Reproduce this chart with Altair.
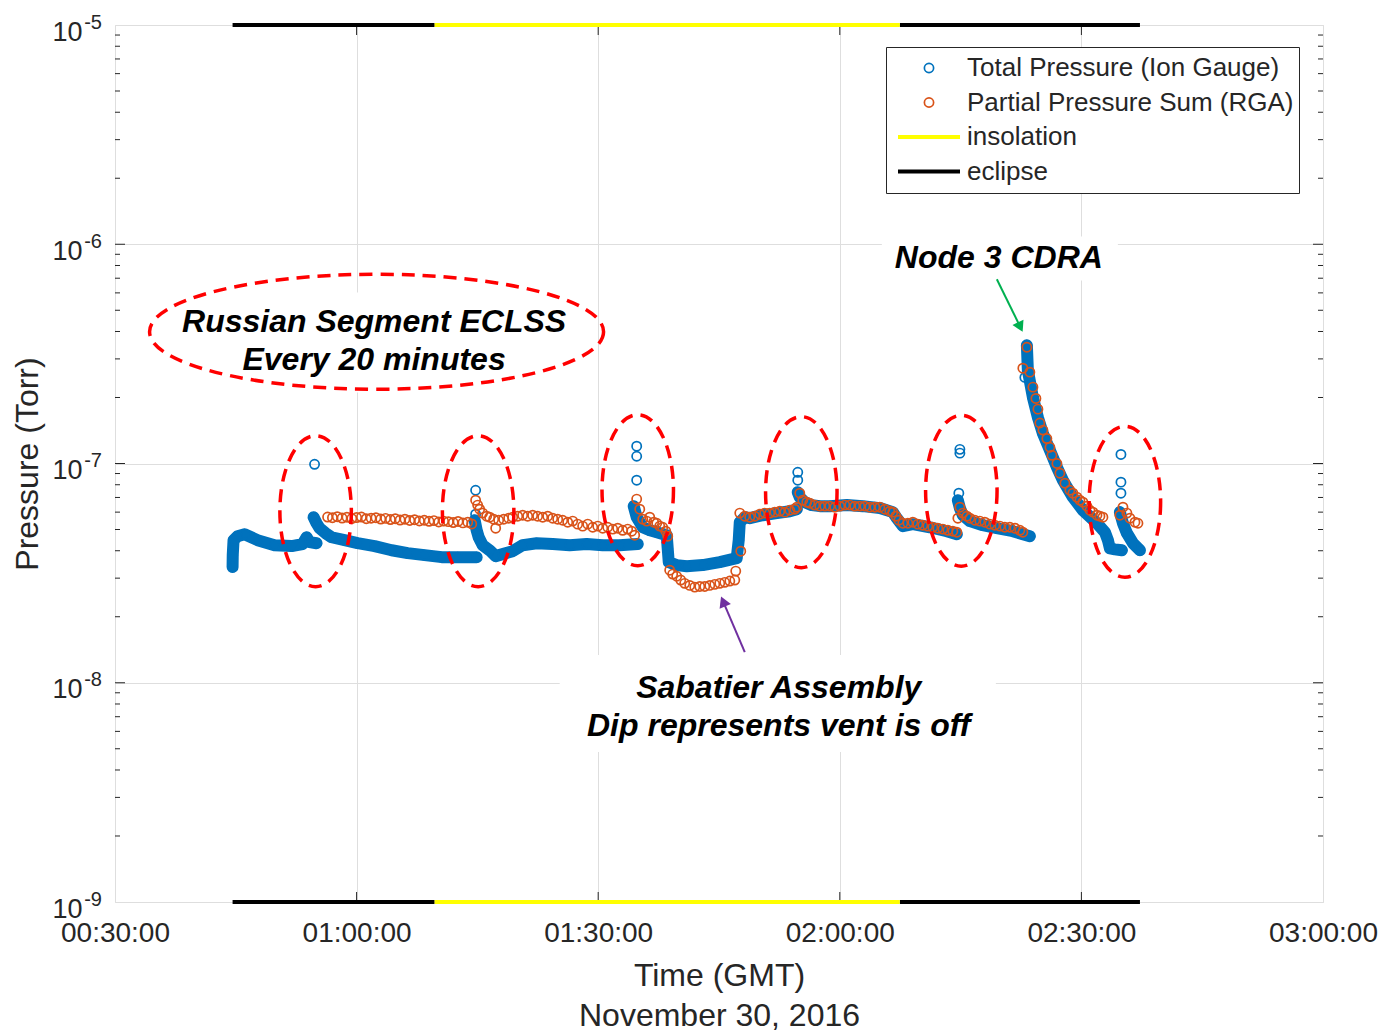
import altair as alt
import pandas as pd

FONT = "Liberation Sans"
INK = "#262626"
GRID = "#dedede"
BLUE = "#0072BD"
ORANGE = "#D95319"
W, H = 1208, 877

# ---------------- axes ----------------
x_tick_values = [30, 60, 90, 120, 150, 180]          # minutes after 00:00 GMT
x_tick_labels = ["00:30:00", "01:00:00", "01:30:00", "02:00:00", "02:30:00", "03:00:00"]
y_tick_values = [1e-9, 1e-8, 1e-7, 1e-6, 1e-5]
y_tick_base = "10"
y_tick_exponents = ["-9", "-8", "-7", "-6", "-5"]
y_minor_ticks = [m * 10.0 ** e for e in (-9, -8, -7, -6) for m in range(2, 10)]
x_inner_ticks = [60, 90, 120, 150]
y_inner_ticks = [1e-8, 1e-7, 1e-6]

# ---------------- legend entries ----------------
series_names = ["Total Pressure (Ion Gauge)", "Partial Pressure Sum (RGA)", "insolation", "eclipse"]
series_colors = [BLUE, ORANGE, "#FFFF00", "#000000"]
series_shapes = ["circle", "circle", "stroke", "stroke"]
series_sizes = [85, 85, 3844, 3844]
series_widths = [1.7, 1.7, 4, 4]

# ---------------- Total pressure (ion gauge), pressures in 1e-8 Torr ----------------
run_a_t = [44.60, 44.62, 44.72, 45.22, 46.09, 47.70, 49.81, 51.93, 53.29, 53.79, 54.16, 55.03]
run_a_p = [3.37, 3.82, 4.47, 4.66, 4.76, 4.47, 4.24, 4.20, 4.29, 4.61, 4.38, 4.33]
run_b_t = [54.66, 55.03, 55.40, 56.15, 56.89, 58.51, 60.12, 62.24, 64.35, 66.34, 68.45, 70.56, 72.55, 74.91]
run_b_p = [5.69, 5.34, 5.07, 4.81, 4.61, 4.47, 4.33, 4.20, 4.02, 3.90, 3.82, 3.74, 3.74, 3.74]
run_c_t = [74.66, 74.91, 75.16, 75.65, 76.52, 77.27, 78.14, 79.38, 80.62, 82.36, 84.35, 86.46, 88.57, 90.56, 92.67, 94.91]
run_c_p = [5.51, 4.96, 4.61, 4.24, 4.02, 3.78, 3.86, 3.98, 4.24, 4.33, 4.29, 4.24, 4.29, 4.24, 4.24, 4.29]
run_d_t = [94.41, 94.78, 95.53, 96.40, 97.27, 98.51, 98.63, 98.76, 99.75, 100.99, 102.98, 105.09, 107.20,
           107.45, 107.58, 108.20, 108.82, 110.43, 112.17, 113.79, 114.66]
run_d_p = [6.39, 5.69, 5.12, 4.96, 4.86, 4.71, 4.10, 3.55, 3.44, 3.40, 3.44, 3.55, 3.70,
           4.47, 5.40, 5.69, 5.63, 5.81, 5.94, 6.06, 6.19]
run_e_t = [114.78, 115.03, 115.65, 116.52, 117.52, 118.76, 120.87, 122.86, 124.97, 126.58, 127.08, 127.83,
           129.07, 131.18, 133.29, 134.53]
run_e_p = [7.40, 7.02, 6.66, 6.46, 6.39, 6.39, 6.46, 6.39, 6.26, 6.00, 5.63, 5.18, 5.29, 5.12, 4.91, 4.76]
run_f_t = [134.66, 134.91, 135.28, 136.15, 137.76, 139.50, 141.49, 142.73, 143.60]
run_f_p = [6.80, 6.26, 5.81, 5.46, 5.23, 5.07, 4.91, 4.76, 4.66]
run_g_t = [143.23, 143.35, 143.98, 144.60, 145.22, 146.09, 146.96, 147.70, 148.94, 150.19, 151.93, 152.92,
           153.29, 153.54, 154.16, 155.03]
run_g_p = [34.6, 26.6, 20.0, 16.2, 13.7, 11.49, 9.61, 8.39, 7.02, 6.12, 5.34, 4.86, 4.47, 4.10, 4.06, 4.02]
run_h_t = [154.78, 155.16, 155.65, 156.40, 157.27]
run_h_p = [6.00, 5.34, 4.81, 4.33, 4.02]
spike_t = [54.78, 74.78, 74.78, 94.78, 94.78, 94.78, 114.78, 114.78, 134.91, 134.91, 134.78, 142.98,
           154.91, 154.91, 154.91]
spike_p = [9.92, 7.55, 5.87, 12.0, 10.79, 8.39, 9.12, 8.39, 11.6, 11.15, 7.32, 24.7, 11.0, 8.22, 7.32]

# ---------------- Partial pressure sum (RGA), pressures in 1e-8 Torr ----------------
rga1_t = [56.4, 57.0, 57.6, 58.2, 58.8, 59.4, 60.0, 60.6, 61.2, 61.8, 62.4, 63.0, 63.6, 64.2, 64.8, 65.4,
          66.0, 66.6, 67.2, 67.8, 68.4, 69.0, 69.6, 70.2, 70.8, 71.4, 72.0, 72.6, 73.2, 73.8, 74.3]
rga1_p = [5.70, 5.66, 5.72, 5.64, 5.69, 5.61, 5.67, 5.70, 5.60, 5.63, 5.66, 5.58, 5.62, 5.55, 5.60, 5.52,
          5.57, 5.50, 5.54, 5.47, 5.51, 5.45, 5.49, 5.41, 5.46, 5.43, 5.38, 5.44, 5.36, 5.40, 5.30]
rga2_t = [74.78, 75.03, 75.28, 75.65, 76.15, 76.52, 77.02, 77.27, 77.64, 78.26, 78.88, 79.38, 80.00, 80.62,
          81.24, 81.86, 82.48, 83.11, 83.73, 84.35, 84.97, 85.59, 86.21, 86.83, 87.45, 88.07, 88.70, 89.32,
          89.94, 90.56, 91.18, 91.80, 92.42, 93.04, 93.66, 94.16, 94.53]
rga2_p = [6.80, 6.46, 6.19, 5.94, 5.75, 5.69, 5.57, 5.07, 5.51, 5.57, 5.63, 5.69, 5.75, 5.81,
          5.75, 5.81, 5.75, 5.69, 5.75, 5.63, 5.57, 5.51, 5.40, 5.46, 5.29, 5.18, 5.29, 5.12,
          5.18, 5.07, 5.12, 5.02, 5.07, 4.96, 5.02, 4.91, 4.71]
rga3_t = [94.78, 95.16, 95.53, 96.02, 96.40, 96.89, 97.27, 97.64, 98.01, 98.39, 98.63, 98.88, 99.25, 99.75,
          100.25, 100.74, 101.37, 101.99, 102.61, 103.23, 103.85, 104.47, 105.09, 105.71, 106.34, 106.96,
          107.08, 107.70]
rga3_p = [6.88, 6.19, 5.57, 5.46, 5.69, 5.40, 5.34, 5.18, 5.12, 4.91, 4.66, 3.26, 3.13, 3.06,
          2.94, 2.84, 2.78, 2.73, 2.75, 2.75, 2.78, 2.81, 2.84, 2.87, 2.91, 2.94, 3.23, 3.98]
rga4_t = [107.58, 108.20, 108.82, 109.44, 110.06, 110.68, 111.30, 111.93, 112.55, 113.17, 113.79, 114.41,
          114.66, 115.03, 115.40, 115.90, 116.27, 116.89, 117.52, 118.14, 118.76, 119.38, 120.00, 120.62,
          121.24, 121.86, 122.48, 123.11, 123.73, 124.35, 124.97, 125.59, 126.21, 126.58, 126.96, 127.33,
          127.83, 128.45, 129.07, 129.69, 130.31, 130.93, 131.55, 132.17, 132.80, 133.42, 134.04, 134.53,
          134.66, 134.91, 135.28, 135.78, 136.15, 136.77, 137.39, 138.01, 138.63, 139.25, 139.88, 140.50,
          141.12, 141.74, 142.36, 142.73]
rga4_p = [5.94, 5.75, 5.69, 5.75, 5.87, 5.94, 5.94, 6.00, 6.06, 6.00, 6.12, 6.19,
          6.32, 7.32, 6.80, 6.66, 6.59, 6.46, 6.39, 6.39, 6.39, 6.32, 6.39, 6.46,
          6.46, 6.39, 6.39, 6.39, 6.32, 6.32, 6.32, 6.19, 6.06, 6.00, 5.75, 5.51,
          5.34, 5.34, 5.40, 5.29, 5.23, 5.18, 5.12, 5.07, 5.02, 4.96, 4.91, 4.86,
          5.63, 6.32, 5.94, 5.75, 5.63, 5.51, 5.46, 5.40, 5.29, 5.23, 5.18, 5.12,
          5.12, 5.07, 4.96, 4.86]
rga5_t = [142.73, 143.23, 143.60, 143.98, 144.35, 144.60, 144.84, 145.22, 145.71, 146.09, 146.34, 146.96,
          147.33, 147.95, 148.57, 148.94, 149.44, 149.81, 150.19, 150.68, 151.06, 151.43, 151.93, 152.30,
          152.67]
rga5_p = [27.2, 33.9, 26.1, 22.3, 19.8, 17.7, 15.3, 14.2, 13.0, 11.86, 10.9, 10.0,
          9.03, 8.13, 7.55, 7.32, 7.02, 6.80, 6.66, 6.39, 6.12, 6.00, 5.81, 5.75, 5.69]
rga6_t = [154.78, 155.16, 155.65, 156.02, 156.65, 157.02]
rga6_p = [5.81, 6.32, 5.94, 5.63, 5.40, 5.34]

# ---------------- insolation / eclipse ----------------
phase_start = [44.60, 69.69, 127.45]
phase_end = [69.69, 127.45, 157.27]
phase_kind = ["eclipse", "insolation", "eclipse"]
plot_edges = [1e-5, 1e-9]

# ---------------- annotations ----------------
event_t = [54.91, 75.09, 94.91, 115.22, 135.09, 155.40]
event_p = [6.06e-8, 6.06e-8, 7.55e-8, 7.40e-8, 7.51e-8, 6.69e-8]
note_t = [62.48]
note_p = [3.99e-7]
text_lines = ["Russian Segment ECLSS", "Every 20 minutes", "Node 3 CDRA",
              "Sabatier Assembly", "Dip represents vent is off"]
text_t = [62.17, 62.17, 139.75, 112.42, 112.42]
text_p = [3.97e-7, 2.66e-7, 7.76e-7, 8.51e-9, 5.71e-9]
box_t0 = [37.39, 125.22, 85.22]
box_t1 = [87.70, 154.53, 139.38]
box_p0 = [2.11e-7, 6.84e-7, 4.83e-9]
box_p1 = [6.03e-7, 1.086e-6, 1.34e-8]
arrow_t0 = [139.50, 108.20]
arrow_p0 = [6.92e-7, 1.38e-8]
arrow_t1 = [142.32, 105.60]
arrow_p1 = [4.26e-7, 2.31e-8]
arrow_angle = [153.9, 336.9]
arrow_color = ["#00B050", "#7030A0"]

# ---------------- tables ----------------
ion_runs = [("A", run_a_t, run_a_p), ("B", run_b_t, run_b_p), ("C", run_c_t, run_c_p),
            ("D", run_d_t, run_d_p), ("E", run_e_t, run_e_p), ("F", run_f_t, run_f_p),
            ("G", run_g_t, run_g_p), ("H", run_h_t, run_h_p)]
band_rows = []
for run, ts, ps in ion_runs:
    for t, p in zip(ts, ps, strict=True):
        band_rows.append({"t": t, "p": p * 1e-8, "run": run, "i": len(band_rows)})
band_df = pd.DataFrame(band_rows)

pt_rows = [{"t": r["t"], "p": r["p"], "series": series_names[0]} for r in band_rows]
for t, p in zip(spike_t, spike_p, strict=True):
    pt_rows.append({"t": t, "p": p * 1e-8, "series": series_names[0]})
for ts, ps in [(rga1_t, rga1_p), (rga2_t, rga2_p), (rga3_t, rga3_p),
               (rga4_t, rga4_p), (rga5_t, rga5_p), (rga6_t, rga6_p)]:
    for t, p in zip(ts, ps, strict=True):
        pt_rows.append({"t": t, "p": p * 1e-8, "series": series_names[1]})
pts_df = pd.DataFrame(pt_rows)

phase_df = pd.DataFrame([{"t0": a, "t1": b, "kind": k, "p": e}
                         for a, b, k in zip(phase_start, phase_end, phase_kind) for e in plot_edges])
event_df = pd.DataFrame({"t": event_t, "p": event_p})
note_df = pd.DataFrame({"t": note_t, "p": note_p})
text_df = pd.DataFrame({"t": text_t, "p": text_p, "label": text_lines})
box_df = pd.DataFrame({"t": box_t0, "t1": box_t1, "p": box_p0, "p1": box_p1})
arrow_df = pd.DataFrame({"t": arrow_t0, "p": arrow_p0, "t1": arrow_t1, "p1": arrow_p1,
                         "ang": arrow_angle, "col": arrow_color})
xt_df = pd.DataFrame({"t": x_inner_ticks})
ymaj_df = pd.DataFrame({"p": y_inner_ticks})
ymin_df = pd.DataFrame({"p": y_minor_ticks})
yexp_df = pd.DataFrame({"p": y_tick_values, "e": y_tick_exponents})

# ---------------- scales / axes ----------------
x_scale = alt.Scale(domain=[30, 180], nice=False, zero=False)
y_scale = alt.Scale(type="log", domain=[1e-9, 1e-5], nice=False)
x_label_expr = "[" + ",".join("'%s'" % s for s in x_tick_labels) + "][round((datum.value - 30) / 30)]"
y_label_expr = "'%s'" % y_tick_base

x_axis = alt.Axis(values=x_tick_values, labelExpr=x_label_expr, grid=True, gridColor=GRID, gridWidth=1,
                  ticks=False, tickSize=0, domain=False, labelFont=FONT, labelFontSize=28, labelColor=INK,
                  labelPadding=17, labelFlush=False, labelOverlap=False,
                  title=["Time (GMT)", "November 30, 2016"], titleFont=FONT, titleFontSize=32,
                  titleFontWeight="normal", titleColor=INK, titleX=W / 2, titleY=83,
                  titleAlign="center", titleBaseline="alphabetic", titleLineHeight=40)
y_axis = alt.Axis(values=y_tick_values, labelExpr=y_label_expr, grid=True, gridColor=GRID, gridWidth=1,
                  ticks=False, tickSize=0, domain=False, labelFont=FONT, labelFontSize=27, labelColor=INK,
                  labelPadding=33, labelOffset=7, labelFlush=False, labelOverlap=False,
                  title="Pressure (Torr)", titleFont=FONT, titleFontSize=32, titleFontWeight="normal",
                  titleColor=INK, titleX=-88, titleY=H / 2, titleAngle=270, titleAlign="center",
                  titleBaseline="middle")


def X(f="t"):
    return alt.X(f + ":Q", scale=x_scale, axis=x_axis)


def Y(f="p"):
    return alt.Y(f + ":Q", scale=y_scale, axis=y_axis)


legend = alt.Legend(title=None, orient="none", legendX=771, legendY=22, direction="vertical",
                    padding=5, rowPadding=2.5, clipHeight=32, symbolOffset=5, labelOffset=5,
                    labelFont=FONT, labelFontSize=26, labelColor=INK, labelLimit=600,
                    strokeColor=INK, fillColor="white", cornerRadius=0, symbolOpacity=1)

# ---------------- layers ----------------
boxes = alt.Chart(box_df).mark_rect(color="white").encode(
    x=X(), x2=alt.X2("t1"), y=Y(), y2=alt.Y2("p1"))

tick_style = dict(color=INK, strokeWidth=1)
xt_bottom = alt.Chart(xt_df).mark_rule(**tick_style).encode(x=X(), y=alt.value(H), y2=alt.value(H - 10))
xt_top = alt.Chart(xt_df).mark_rule(**tick_style).encode(x=X(), y=alt.value(0), y2=alt.value(10))
yl_major = alt.Chart(ymaj_df).mark_rule(**tick_style).encode(y=Y(), x=alt.value(0), x2=alt.value(10))
yr_major = alt.Chart(ymaj_df).mark_rule(**tick_style).encode(y=Y(), x=alt.value(W - 10), x2=alt.value(W))
yl_minor = alt.Chart(ymin_df).mark_rule(**tick_style).encode(y=Y(), x=alt.value(0), x2=alt.value(5))
yr_minor = alt.Chart(ymin_df).mark_rule(**tick_style).encode(y=Y(), x=alt.value(W - 5), x2=alt.value(W))

# exponent part of the "10^n" tick labels (superscript)
yexp = alt.Chart(yexp_df).mark_text(font=FONT, fontSize=20, color=INK, align="right",
                                    baseline="alphabetic", dy=3.5).encode(
    y=Y(), x=alt.value(-13), text="e:N")

band = alt.Chart(band_df).mark_line(color=BLUE, strokeWidth=12, strokeCap="round", strokeJoin="round").encode(
    x=X(), y=Y(), detail="run:N", order="i:Q")

points = alt.Chart(pts_df).mark_point(filled=False, opacity=1).encode(
    x=X(), y=Y(),
    color=alt.Color("series:N", scale=alt.Scale(domain=series_names, range=series_colors), legend=legend),
    shape=alt.Shape("series:N", scale=alt.Scale(domain=series_names, range=series_shapes), legend=legend),
    size=alt.Size("series:N", scale=alt.Scale(type="ordinal", domain=series_names, range=series_sizes),
                  legend=legend),
    strokeWidth=alt.StrokeWidth("series:N",
                                scale=alt.Scale(type="ordinal", domain=series_names, range=series_widths),
                                legend=legend),
)

bar_eclipse = alt.Chart(phase_df).transform_filter(alt.datum.kind == "eclipse").mark_rule(
    color="#000000", strokeWidth=4).encode(x=X("t0"), x2=alt.X2("t1"), y=Y())
bar_insol = alt.Chart(phase_df).transform_filter(alt.datum.kind == "insolation").mark_rule(
    color="#FFFF00", strokeWidth=4).encode(x=X("t0"), x2=alt.X2("t1"), y=Y())

small_ellipse = ("M0.4733,0C0.4733,0.5523,0.2614,1,0,1C-0.2614,1,-0.4733,0.5523,-0.4733,0"
                 "C-0.4733,-0.5523,-0.2614,-1,0,-1C0.2614,-1,0.4733,-0.5523,0.4733,0Z")
big_ellipse = ("M1,0C1,0.1398,0.5523,0.2533,0,0.2533C-0.5523,0.2533,-1,0.1398,-1,0"
               "C-1,-0.1398,-0.5523,-0.2533,0,-0.2533C0.5523,-0.2533,1,-0.1398,1,0Z")
ell_style = dict(filled=False, color="#FF0000", strokeWidth=3.5, strokeDash=[13, 8], opacity=1)
events = alt.Chart(event_df).mark_point(shape=small_ellipse, size=151 ** 2, **ell_style).encode(x=X(), y=Y())
note = alt.Chart(note_df).mark_point(shape=big_ellipse, size=454 ** 2, **ell_style).encode(x=X(), y=Y())

arrows = alt.Chart(arrow_df).mark_rule(strokeWidth=2).encode(
    x=X(), y=Y(), x2=alt.X2("t1"), y2=alt.Y2("p1"), stroke=alt.Stroke("col:N", scale=None))
heads = alt.Chart(arrow_df).mark_point(shape="triangle", filled=True, size=150, opacity=1, strokeWidth=0).encode(
    x=X("t1"), y=Y("p1"), fill=alt.Fill("col:N", scale=None), angle=alt.Angle("ang:Q", scale=None))

texts = alt.Chart(text_df).mark_text(font=FONT, fontSize=32, fontStyle="italic", fontWeight="bold",
                                     color="#000000", align="center", baseline="alphabetic").encode(
    x=X(), y=Y(), text="label:N")

chart = alt.layer(
    boxes, xt_bottom, xt_top, yl_major, yr_major, yl_minor, yr_minor, yexp,
    band, points, bar_eclipse, bar_insol, events, note, arrows, heads, texts
).properties(
    width=W, height=H,
    autosize=alt.AutoSizeParams(type="none"),
    padding={"left": 107, "top": 17, "right": 55, "bottom": 132},
    background="white",
).configure_view(stroke=INK, strokeWidth=1).configure(font=FONT)

chart.save("out.html", embed_options={"renderer": "svg", "actions": False})
